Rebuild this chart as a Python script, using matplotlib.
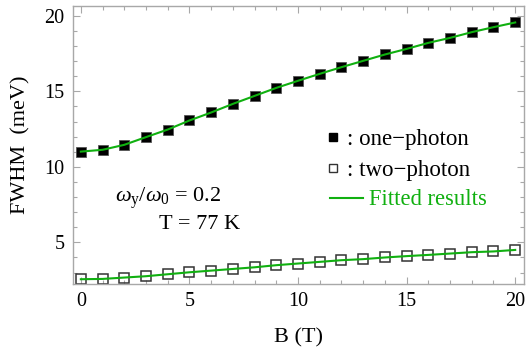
import numpy as np
import matplotlib
matplotlib.use("Agg")
import matplotlib.pyplot as plt
from matplotlib.lines import Line2D
from matplotlib.ticker import MultipleLocator

# data
B = list(range(0, 21))
one_photon = [11.01, 11.13, 11.46, 11.97, 12.47, 13.07, 13.6, 14.17, 14.7, 15.23,
              15.7, 16.16, 16.6, 17.02, 17.44, 17.81, 18.21, 18.54, 18.92, 19.25, 19.56]
two_photon = [2.56, 2.58, 2.67, 2.76, 2.89, 3.02, 3.13, 3.24, 3.35, 3.49,
              3.6, 3.71, 3.82, 3.89, 4.0, 4.09, 4.17, 4.26, 4.35, 4.4, 4.5]

plt.rcParams['font.family'] = ['Liberation Serif', 'DejaVu Serif']
plt.rcParams['mathtext.fontset'] = 'custom'
plt.rcParams['mathtext.rm'] = 'Liberation Serif'
plt.rcParams['mathtext.it'] = 'Liberation Serif:italic'

green = '#10b010'
grey = '#a8a8a8'

fig = plt.figure(figsize=(5.26, 3.54), dpi=100)
ax = fig.add_axes([0.138, 0.198, 0.858, 0.785])

# fitted curves
ax.plot(B, one_photon, color=green, lw=1.5, zorder=3)
ax.plot(B, two_photon, color=green, lw=1.5, zorder=3)

# data points
ax.plot(B, one_photon, ls='none', marker='s', ms=7, mfc='black', mec='#555555',
        mew=0.6, zorder=2)
ax.plot(B, two_photon, ls='none', marker='s', ms=6.5, mfc='none', mec='#333333',
        mew=1.1, zorder=2)

ax.set_xlim(-0.38, 20.4)
ax.set_ylim(2.25, 20.65)
ax.xaxis.set_major_locator(MultipleLocator(5))
ax.xaxis.set_minor_locator(MultipleLocator(1))
ax.yaxis.set_major_locator(MultipleLocator(5))
ax.yaxis.set_minor_locator(MultipleLocator(1))
ax.tick_params(which='both', direction='in', top=True, right=True, color=grey,
               labelsize=14.5, width=0.8)
ax.tick_params(which='major', length=5, pad=6)
ax.tick_params(which='minor', length=3)
for s in ax.spines.values():
    s.set_color(grey)
    s.set_linewidth(1.0)

ax.set_xlabel('B (T)', fontsize=16, labelpad=12)
ax.set_ylabel('FWHM  (meV)', fontsize=16, labelpad=10)

ax.text(0.211, 0.309, r'$\omega_{\rm y}/\omega_0$ = 0.2', transform=ax.transAxes,
        fontsize=16, ha='center', va='center')
ax.text(0.282, 0.212, 'T = 77 K', transform=ax.transAxes,
        fontsize=16, ha='center', va='center')

# legend: symbols first, then the fit line
h1 = [Line2D([], [], ls='none', marker='s', ms=5.5, mfc='black', mec='black'),
      Line2D([], [], ls='none', marker='s', ms=5.5, mfc='none', mec='#333333', mew=1)]
leg1 = ax.legend(h1, [': one\u2212photon', ': two\u2212photon'], loc='center left',
                 bbox_to_anchor=(0.5646, 0.465), frameon=False, fontsize=16.5,
                 handlelength=0.5, handletextpad=0.37, borderpad=0,
                 borderaxespad=0, labelspacing=0.42)
ax.add_artist(leg1)
h2 = [Line2D([], [], color=green, lw=1.5)]
leg2 = ax.legend(h2, ['Fitted results'], loc='center left',
                 bbox_to_anchor=(0.570, 0.302), frameon=False, fontsize=16.3,
                 handlelength=1.46, handletextpad=0.27, borderpad=0,
                 borderaxespad=0, labelcolor=green)

fig.savefig('out.png', dpi=100)
